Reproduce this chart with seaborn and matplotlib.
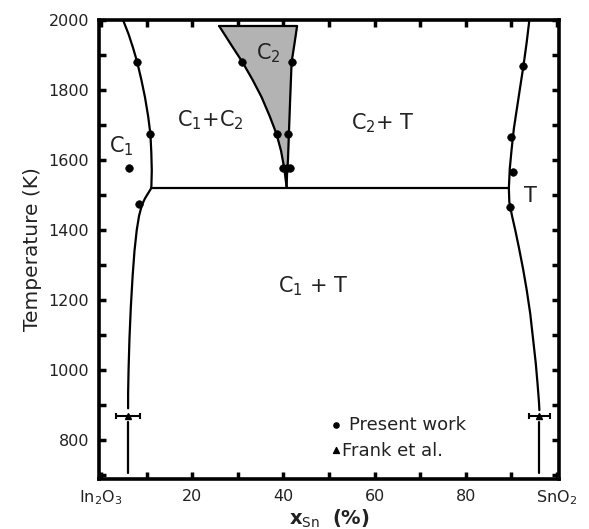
import numpy as np
import pandas as pd
import matplotlib
matplotlib.use("Agg")
import matplotlib.pyplot as plt
import seaborn as sns

# ---------------- data ----------------
# C1 solvus, above the eutectoid line
c1_up_x = [4.8, 6.0, 7.0, 7.9, 8.8, 9.6, 10.3, 10.8, 11.0, 11.1, 11.0]
c1_up_T = [2000, 1960, 1920, 1880, 1830, 1780, 1725, 1674, 1620, 1570, 1520]
# C1 solvus, below the eutectoid line
c1_lo_x = [11.0, 10.3, 9.6, 8.9, 8.3, 7.8, 7.3, 6.9, 6.5, 6.2, 6.0, 5.9, 5.9]
c1_lo_T = [1520, 1505, 1490, 1470, 1440, 1400, 1340, 1270, 1180, 1090, 1000, 930, 890]
c1_tail_x = [5.9, 5.9]
c1_tail_T = [850, 706]

# C2 single-phase region
c2_left_x = [25.9, 28.5, 31.0, 33.2, 35.2, 37.0, 38.5, 39.5, 40.2, 40.7]
c2_left_T = [1983, 1930, 1880, 1830, 1780, 1725, 1674, 1625, 1575, 1523]
c2_right_x = [43.0, 42.4, 41.8, 41.5, 41.2, 41.0, 40.8, 40.7]
c2_right_T = [1983, 1930, 1880, 1780, 1674, 1600, 1560, 1523]

# eutectoid line
eut_x = [11.0, 89.5]
eut_T = [1520, 1520]

# T (SnO2) solvus
t_x = [94.0, 93.4, 92.7, 92.0, 91.3, 90.6, 90.1, 89.7, 89.5, 89.6, 90.2, 90.9,
       91.7, 92.6, 93.4, 94.2, 94.8, 95.4, 95.8, 96.1, 96.2]
t_T = [2000, 1935, 1869, 1810, 1750, 1690, 1630, 1575, 1520, 1480, 1440, 1400,
       1350, 1290, 1230, 1160, 1090, 1020, 960, 910, 885]
t_tail_x = [96.2, 96.2]
t_tail_T = [850, 706]

# Present work
pw_x = [6.2, 7.9, 10.8, 8.4, 31.0, 41.8, 38.5, 41.1, 39.8, 40.7, 41.5,
        92.7, 89.9, 90.3, 89.7]
pw_T = [1577, 1880, 1674, 1474, 1880, 1880, 1674, 1674, 1577, 1577, 1577,
        1869, 1666, 1566, 1466]

# Frank et al.
fr_x = [5.9, 96.2]
fr_T = [868, 868]
fr_xerr = [2.6, 2.3]

xtick_pos = [0, 20, 40, 60, 80, 100]
xtick_lab = ["In$_2$O$_3$", "20", "40", "60", "80", "SnO$_2$"]
ytick_pos = [800, 1000, 1200, 1400, 1600, 1800, 2000]

# ---------------- plot ----------------
sns.set_theme(style="white")
plt.rcParams['font.family'] = ['DejaVu Sans']
fig = plt.figure(figsize=(5.89, 5.29), dpi=100)
ax = fig.add_axes([0.168, 0.0945, 0.781, 0.8675])

lw = 1.6
tc = "#222222"

# gray C2 region
poly_x = c2_left_x + c2_right_x[::-1]
poly_T = c2_left_T + c2_right_T[::-1]
ax.fill(poly_x, poly_T, color="#b3b3b3", zorder=1)

def line(x, y):
    df = pd.DataFrame({"x": x, "T": y})
    sns.lineplot(data=df, x="x", y="T", sort=False, estimator=None,
                 color="black", lw=lw, ax=ax, zorder=3)

line(c1_up_x, c1_up_T)
line(c1_lo_x, c1_lo_T)
line(c1_tail_x, c1_tail_T)
line(c2_left_x, c2_left_T)
line(c2_right_x, c2_right_T)
line([c2_left_x[0], c2_right_x[0]], [c2_left_T[0], c2_right_T[0]])
line(eut_x, eut_T)
line(t_x, t_T)
line(t_tail_x, t_tail_T)

sns.scatterplot(x=pw_x, y=pw_T, color="black", s=30, marker="o",
                edgecolor="black", ax=ax, zorder=4)
ax.errorbar(fr_x, fr_T, xerr=fr_xerr, fmt="^", color="black", ms=5,
            capsize=2.5, elinewidth=1.5, capthick=1.5, zorder=4)

# legend (manual, frameless)
ax.scatter([0.515], [0.117], transform=ax.transAxes, s=14, color="black",
           marker="o", clip_on=False)
ax.text(0.543, 0.117, "Present work", transform=ax.transAxes, fontsize=13,
        va="center", ha="left", color=tc)
ax.scatter([0.515], [0.064], transform=ax.transAxes, s=18, color="black",
           marker="^", clip_on=False)
ax.text(0.528, 0.061, "Frank et al.", transform=ax.transAxes, fontsize=13,
        va="center", ha="left", color=tc)

# region labels
fs = 15
ax.text(4.4, 1640, "C$_1$", fontsize=fs, ha="center", va="center", color=tc)
ax.text(24.0, 1715, "C$_1$+C$_2$", fontsize=fs, ha="center", va="center", color=tc)
ax.text(36.7, 1906, "C$_2$", fontsize=fs, ha="center", va="center", color=tc)
ax.text(61.8, 1706, "C$_2$+ T", fontsize=fs, ha="center", va="center", color=tc)
ax.text(94.3, 1497, "T", fontsize=fs, ha="center", va="center", color=tc)
ax.text(46.6, 1240, "C$_1$ + T", fontsize=fs, ha="center", va="center", color=tc)

ax.set_xlim(-0.5, 100.5)
ax.set_ylim(688, 2000)
ax.set_xticks(xtick_pos)
ax.set_xticklabels(xtick_lab, fontsize=11.5, color=tc)
ax.set_xticks([10, 30, 50, 70, 90], minor=True)
ax.set_yticks(ytick_pos)
ax.set_yticklabels([str(v) for v in ytick_pos], fontsize=11.5, color=tc)
ax.set_yticks(np.arange(700, 2000, 200), minor=True)
ax.tick_params(which="both", direction="in", length=5, width=2.5,
               top=True, right=True, bottom=True, left=True, pad=7,
               colors="black", labelcolor=tc)
for s in ax.spines.values():
    s.set_linewidth(2.6)
    s.set_color("black")

ax.set_ylabel("Temperature (K)", fontsize=14.5, color=tc, labelpad=5)
ax.set_xlabel(r"$\mathbf{x}_{\rm Sn}$  $\mathbf{(\%)}$", fontsize=14,
              color=tc, labelpad=0)
ax.grid(False)

fig.savefig("out.png", dpi=100)
